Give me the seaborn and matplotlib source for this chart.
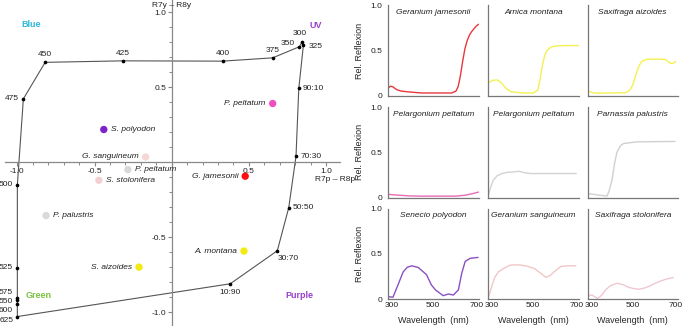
import matplotlib

matplotlib.use("Agg")

import matplotlib.pyplot as plt
import matplotlib.transforms as mtransforms
import pandas as pd
import seaborn as sns
from matplotlib.ticker import MultipleLocator, FixedLocator

# ---- colour hexagon data ----
hex_labels = ["300", "325", "350", "375", "400", "425", "450", "475", "500", "525",
              "575", "550", "600", "625", "10:90", "30:70", "50:50", "70:30", "90:10"]
hex_x = [0.844, 0.853, 0.827, 0.654, 0.329, -0.316, -0.82, -0.961, -1.0, -1.0,
         -1.0, -1.0, -1.0, -1.0, 0.379, 0.684, 0.758, 0.805, 0.823]
hex_y = [0.80, 0.78, 0.769, 0.695, 0.673, 0.675, 0.665, 0.422, -0.151, -0.702,
         -0.902, -0.92, -0.942, -1.027, -0.809, -0.589, -0.302, 0.04, 0.491]
# line drawn through the loci in this order
hex_path = ["300", "350", "375", "400", "425", "450", "475", "500", "525", "575",
            "550", "600", "625", "10:90", "30:70", "50:50", "70:30", "90:10", "325", "300"]

species_names = ["P. peltatum", "S. polyodon", "G. sanguineum", "P. peltatum",
                 "S. stolonifera", "P. palustris", "G. jamesonii", "S. aizoides", "A. montana"]
species_x = [0.654, -0.44, -0.169, -0.284, -0.472, -0.814, 0.476, -0.212, 0.468]
species_y = [0.391, 0.218, 0.035, -0.049, -0.12, -0.355, -0.093, -0.698, -0.591]
species_colors = ["#ee4fc0", "#7b22c9", "#f7d6d6", "#d8d8d8", "#f3cfd2",
                  "#d9d9d9", "#ff1010", "#f2ea10", "#f2ea10"]
species_side = ["left", "right", "left", "right", "right", "right", "left", "left", "left"]

corner_labels = ["Blue", "UV", "Green", "Purple"]
corner_x = [-0.91, 0.93, -0.86, 0.83]
corner_y = [0.92, 0.91, -0.885, -0.885]
corner_colors = ["#2fb8da", "#9a40cc", "#7cc242", "#9a40cc"]

# ---- reflectance spectra ----
wl_gj = [300, 310, 320, 340, 360, 400, 450, 500, 550, 580, 600, 610, 620, 630, 640, 650, 660, 670, 680, 690, 700]
rf_gj = [0.08, 0.105, 0.10, 0.065, 0.05, 0.04, 0.03, 0.03, 0.03, 0.03, 0.05, 0.1, 0.22, 0.38, 0.52, 0.61, 0.67, 0.71, 0.74, 0.77, 0.79]
wl_am = [300, 320, 340, 360, 380, 400, 450, 500, 520, 530, 540, 550, 560, 580, 600, 650, 700]
rf_am = [0.14, 0.17, 0.175, 0.14, 0.08, 0.045, 0.03, 0.03, 0.06, 0.18, 0.33, 0.44, 0.50, 0.54, 0.55, 0.555, 0.555]
wl_sa = [300, 320, 340, 400, 470, 490, 500, 510, 520, 530, 540, 560, 580, 620, 645, 665, 680, 690]
rf_sa = [0.056, 0.035, 0.027, 0.03, 0.033, 0.07, 0.12, 0.2, 0.28, 0.34, 0.38, 0.40, 0.405, 0.405, 0.40, 0.36, 0.36, 0.38]
wl_pp1 = [300, 350, 400, 450, 500, 550, 600, 640, 670, 700]
rf_pp1 = [0.035, 0.025, 0.017, 0.015, 0.015, 0.015, 0.015, 0.025, 0.04, 0.06]
wl_pp2 = [300, 310, 323, 340, 361, 385, 413, 436, 460, 488, 550, 620, 690]
rf_pp2 = [0.007, 0.1, 0.19, 0.24, 0.265, 0.278, 0.283, 0.29, 0.275, 0.265, 0.265, 0.265, 0.265]
wl_pa = [300, 340, 386, 395, 408, 420, 430, 445, 459, 490, 518, 600, 687]
rf_pa = [0.044, 0.03, 0.015, 0.07, 0.19, 0.38, 0.50, 0.57, 0.597, 0.607, 0.615, 0.618, 0.62]
wl_sp = [300, 322, 344, 367, 385, 404, 433, 470, 492, 510, 530, 544, 567, 589, 611, 626, 641, 663, 698]
rf_sp = [0.026, 0.02, 0.155, 0.30, 0.35, 0.367, 0.35, 0.27, 0.155, 0.10, 0.063, 0.037, 0.055, 0.044, 0.10, 0.285, 0.415, 0.45, 0.46]
wl_gs = [300, 316, 330, 346, 370, 398, 436, 470, 503, 530, 555, 575, 592, 622, 650, 688]
rf_gs = [0.0, 0.137, 0.24, 0.30, 0.34, 0.375, 0.378, 0.365, 0.34, 0.29, 0.24, 0.26, 0.30, 0.36, 0.367, 0.367]
wl_ss = [300, 310, 319, 332, 344, 355, 363, 380, 400, 430, 455, 481, 505, 525, 550, 576, 605, 635, 660, 679]
rf_ss = [0.019, 0.04, 0.044, 0.025, 0.008, 0.025, 0.044, 0.10, 0.145, 0.174, 0.16, 0.13, 0.115, 0.108, 0.12, 0.145, 0.18, 0.21, 0.228, 0.237]

panel_titles = ["Geranium jamesonii", "Arnica montana", "Saxifraga aizoides",
                "Pelargonium peltatum", "Pelargonium peltatum", "Parnassia palustris",
                "Senecio polyodon", "Geranium sanguineum", "Saxifraga stolonifera"]
panel_wl = [wl_gj, wl_am, wl_sa, wl_pp1, wl_pp2, wl_pa, wl_sp, wl_gs, wl_ss]
panel_rf = [rf_gj, rf_am, rf_sa, rf_pp1, rf_pp2, rf_pa, rf_sp, rf_gs, rf_ss]
panel_colors = ["#e8383d", "#f5f050", "#f5f050", "#e86cb4", "#d2d2d2",
                "#d0d0d0", "#8a50c2", "#f2c6c6", "#f0c8d0"]

sns.set_style("white")
plt.rcParams["font.family"] = ["Liberation Sans", "DejaVu Sans"]
plt.rcParams["text.color"] = "#222222"
plt.rcParams["axes.unicode_minus"] = False

W, H = 685, 326
fig = plt.figure(figsize=(W / 100, H / 100), dpi=100)

# ---- left: colour hexagon ----
ax = fig.add_axes([5 / W, 0, 335 / W, 1])
ax.set_xlim(-1.08, 1.09)
ax.set_ylim(-1.09, 1.08)
for side in ["top", "right"]:
    ax.spines[side].set_visible(False)
for side in ["left", "bottom"]:
    ax.spines[side].set_position("zero")
    ax.spines[side].set_color("#888888")
    ax.spines[side].set_linewidth(0.9)
ax.xaxis.set_major_locator(FixedLocator([-1.0, -0.5, 0.5, 1.0]))
ax.yaxis.set_major_locator(FixedLocator([-1.0, -0.5, 0.5, 1.0]))
ax.xaxis.set_minor_locator(MultipleLocator(0.1))
ax.yaxis.set_minor_locator(MultipleLocator(0.1))
ax.tick_params(which="both", direction="out", color="#888888", labelsize=6, pad=1,
               labelcolor="#222222")
ax.tick_params(which="major", length=3, width=0.8)
ax.tick_params(which="minor", length=2, width=0.7)
ax.xaxis.set_ticks_position("bottom")
ax.yaxis.set_ticks_position("left")

pos = {lab: (x, y) for lab, x, y in zip(hex_labels, hex_x, hex_y)}
path = pd.DataFrame({"x": [pos[p][0] for p in hex_path],
                     "y": [pos[p][1] for p in hex_path]})
sns.lineplot(data=path, x="x", y="y", sort=False, estimator=None, color="#555555",
             linewidth=0.8, ax=ax)
sns.scatterplot(x=hex_x, y=hex_y, color="black", s=7, linewidth=0, ax=ax, zorder=3)

offsets = {"300": (-2, 4, "center", "bottom"), "325": (4, -1, "left", "center"),
           "350": (-3, 2, "right", "center"), "375": (0, 3, "center", "bottom"),
           "400": (0, 3, "center", "bottom"), "425": (0, 3, "center", "bottom"),
           "450": (0, 3, "center", "bottom"), "475": (-3, 0, "right", "center"),
           "500": (-3, 0, "right", "center"), "525": (-3, 0, "right", "center"),
           "575": (-3, 4, "right", "center"), "550": (-3, -1, "right", "center"),
           "600": (-3, -5, "right", "center"), "625": (-3, -3, "right", "center"),
           "10:90": (0, -4, "center", "top"), "30:70": (0, -3, "left", "top"),
           "50:50": (3, 0, "left", "center"), "70:30": (3, 0, "left", "center"),
           "90:10": (3, 0, "left", "center")}
for lab, x, y in zip(hex_labels, hex_x, hex_y):
    dx, dy, ha, va = offsets[lab]
    ax.annotate(lab, (x, y), xytext=(dx, dy), textcoords="offset points",
                ha=ha, va=va, fontsize=6)

pts = pd.DataFrame({"x": species_x, "y": species_y, "k": range(len(species_x))})
sns.scatterplot(data=pts, x="x", y="y", hue="k", palette=species_colors, s=28,
                linewidth=0, legend=False, ax=ax, zorder=4)
for name, x, y, side in zip(species_names, species_x, species_y, species_side):
    dx = -5 if side == "left" else 5
    ax.annotate(name, (x, y), xytext=(dx, 0), textcoords="offset points",
                ha="right" if side == "left" else "left", va="center",
                fontsize=6, style="italic")

for lab, x, y, c in zip(corner_labels, corner_x, corner_y, corner_colors):
    ax.text(x, y, lab, color=c, fontsize=6.5, fontweight="bold", ha="center", va="center")

ax.text(0.0, 1.045, "R7y – R8y", fontsize=6, ha="center", va="center", clip_on=False)
ax.text(1.06, -0.115, "R7p – R8p", fontsize=6, ha="center", va="center", clip_on=False)
ax.set_xlabel("")
ax.set_ylabel("")

# ---- right: reflectance panels ----
col_left = [388, 488, 587.5]
row_bottom = [95.7, 197.5, 299]
pw, ph = 90.5, 90.4
for i, (title, wl, rf, c) in enumerate(zip(panel_titles, panel_wl, panel_rf, panel_colors)):
    r, cidx = divmod(i, 3)
    a = fig.add_axes([col_left[cidx] / W, 1 - row_bottom[r] / H, pw / W, ph / H])
    sns.lineplot(x=wl, y=rf, color=c, linewidth=1.0, ax=a)
    a.set_xlim(300, 700)
    a.set_ylim(0, 1.0)
    for side in ["top", "right"]:
        a.spines[side].set_visible(False)
    for side in ["left", "bottom"]:
        a.spines[side].set_color("#777777")
        a.spines[side].set_linewidth(0.9)
    a.set_xticks([300, 500, 700])
    a.set_yticks([0, 0.5, 1.0])
    a.set_yticklabels(["0", "0.5", "1.0"])
    a.tick_params(axis="both", length=0, labelsize=6, pad=2, labelcolor="#222222")
    a.tick_params(axis="y", pad=4)
    if cidx != 0:
        a.tick_params(axis="y", labelleft=False)
        a.set_ylabel("")
    else:
        a.set_ylabel("Rel. Reflexion", fontsize=6.5, labelpad=5)
    if r != 2:
        a.tick_params(axis="x", labelbottom=False)
        a.set_xlabel("")
    else:
        a.set_xlabel("Wavelength  (nm)", fontsize=6.5, labelpad=5)
        xl = a.get_xticklabels()
        shifts = [4, 0, -2]
        for lab, s in zip(xl, shifts):
            lab.set_transform(lab.get_transform() +
                              mtransforms.ScaledTranslation(s / 100, 0, fig.dpi_scale_trans))
    a.text(0.5, 0.96, title, transform=a.transAxes, ha="center", va="top",
           fontsize=6, style="italic")

fig.savefig("out.png", dpi=100)
